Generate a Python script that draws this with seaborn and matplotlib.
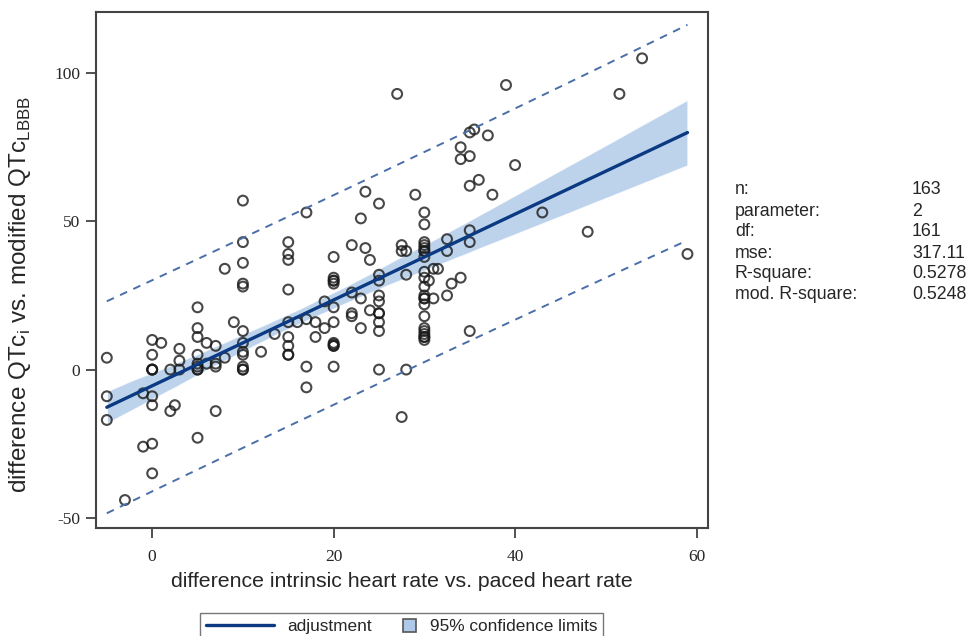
import numpy as np
import pandas as pd
import seaborn as sns
import matplotlib
matplotlib.use('Agg')
import matplotlib.pyplot as plt
from matplotlib.lines import Line2D
from matplotlib.patches import Patch, Rectangle
from matplotlib.legend_handler import HandlerPatch

# heart rate difference (x) and QTc difference (y)
hr_diff = [-5, -5, -5, -3, -1, -1, 0, 0, 0, 0, 0, 0, 0, 0, 1, 2, 2, 2.5, 3, 3, 3,
           5, 5, 5, 5, 5, 5, 5, 5, 6, 6, 7, 7, 7, 7, 8, 9, 10, 10, 10, 10, 10, 10, 12,
           10, 10, 10, 10, 10, 8,
           13.5, 15, 15, 15, 15, 15, 15, 15, 15, 16, 17, 17, 17, 17, 18, 18, 19, 19,
           20, 20, 20, 20, 20, 20, 20, 20, 20, 20, 22, 22, 22, 22, 23, 23, 23, 23.5, 23.5,
           24, 24, 25, 25, 25, 25, 25, 25, 25, 25, 25, 27.5, 27.5, 28, 28, 28, 27.5, 29,
           30, 30, 30, 30, 30, 30, 30, 30, 30, 30, 30, 30, 30, 30, 30, 30, 30, 30, 30,
           30.5, 31, 31.5, 31, 32.5, 32.5, 32.5, 33, 34, 35, 36, 35, 35, 35, 37.5,
           27, 39, 54, 51.5, 35, 35.5, 37, 34, 34, 35, 40,
           43, 48, 59,
           0, 5, 10, 20, 30, 30, 30, 25, 15, 20]
qtc_diff = [4, -9, -17, -44, -8, -26, 10, 5, 0, 0, -9, -12, -25, -35, 9, 0, -14, -12, 7, 3, 0,
            21, 14, 11, 5, 2, 0, 1, -23, 9, 2, 8, 2, 1, -14, 4, 16, 13, 9, 6, 5, 1, 0, 6,
            57, 43, 36, 29, 28, 34,
            12, 43, 39, 37, 27, 16, 11, 8, 5, 16, 53, 17, 1, -6, 16, 11, 23, 14,
            38, 31, 30, 29, 21, 16, 9, 8.5, 8, 1, 42, 26, 19, 18, 51, 24, 14, 60, 41,
            37, 20, 56, 32, 30, 25, 23, 19, 16, 13, 0, 42, 40, 40, 32, 0, -16, 59,
            53, 49, 43, 42, 41, 40, 38, 33, 31, 28, 25, 24, 22, 18, 14, 13, 12, 11, 10,
            30, 34, 34, 24, 44, 40, 25, 29, 31, 62, 64, 47, 43, 13, 59,
            93, 96, 105, 93, 80, 81, 79, 75, 71, 72, 69,
            53, 46.5, 39,
            0, 0, 0, 30, 40, 24, 11, 19, 5, 8]

stat_names = ['n:', 'parameter:', 'df:', 'mse:', 'R-square:', 'mod. R-square:']
stat_values = ['163', '2', '161', '317.11', '0.5278', '0.5248']

line_color = '#0b3a82'
band_color = '#adc8e8'
limit_color = '#4a6fa8'

sns.set_style('white')
plt.rcParams['font.family'] = ['Liberation Sans', 'DejaVu Sans']
plt.rcParams['mathtext.fontset'] = 'custom'
plt.rcParams['mathtext.rm'] = 'Liberation Sans'
plt.rcParams['axes.unicode_minus'] = False


def prediction_limits(x, y, xs, t=1.9748):
    x = np.asarray(x, float)
    y = np.asarray(y, float)
    b, a = np.polyfit(x, y, 1)
    resid = y - (a + b * x)
    s = np.sqrt(np.sum(resid ** 2) / (len(x) - 2))
    sxx = np.sum((x - x.mean()) ** 2)
    half = t * s * np.sqrt(1 + 1 / len(x) + (xs - x.mean()) ** 2 / sxx)
    fit = a + b * xs
    return fit - half, fit + half


def square_patch(legend, orig_handle, xdescent, ydescent, width, height, fontsize):
    # small square drawn at the right end of the handle box
    s = fontsize * 0.75
    return Rectangle((-xdescent + width - s, -ydescent + (height - s) / 2), s, s)


def main():
    df = pd.DataFrame({'hr': hr_diff, 'qtc': qtc_diff})

    fig = plt.figure(figsize=(9.69, 6.36), dpi=100)
    ax = fig.add_axes([0.099, 0.170, 0.632, 0.811])

    sns.regplot(data=df, x='hr', y='qtc', ax=ax, ci=95, n_boot=1000, seed=3,
                scatter_kws=dict(s=50, facecolors='none', edgecolors='#1a1a1a', linewidths=1.5),
                line_kws=dict(color=line_color, lw=2.4))
    # recolour the confidence band
    for coll in ax.collections[1:]:
        coll.set_facecolor(band_color)
        coll.set_alpha(0.8)
        coll.set_zorder(0.5)

    xs = np.linspace(min(hr_diff), max(hr_diff), 100)
    lo, hi = prediction_limits(hr_diff, qtc_diff, xs)
    ax.plot(xs, lo, ls=(0, (4, 3.5)), color=limit_color, lw=1.4)
    ax.plot(xs, hi, ls=(0, (4, 3.5)), color=limit_color, lw=1.4)

    ax.set_xlim(-6.2, 61.3)
    ax.set_ylim(-53.4, 120.6)
    ax.set_xticks([0, 20, 40, 60])
    ax.set_yticks([-50, 0, 50, 100])
    for lab in ax.get_xticklabels() + ax.get_yticklabels():
        lab.set_family(['Liberation Serif', 'DejaVu Serif'])
        lab.set_fontsize(12.5)
    ax.tick_params(direction='out', length=7.5, width=1.2, color='#333333', pad=4,
                   left=True, bottom=True)
    ax.tick_params(axis='x', pad=8)
    for side in ax.spines.values():
        side.set_color('#444444')
        side.set_linewidth(1.5)

    ax.set_xlabel('difference intrinsic heart rate vs. paced heart rate', fontsize=15.3, labelpad=5)
    ax.set_ylabel(r'difference QTc$_{\mathrm{i}}$ vs. modified QTc$_{\mathrm{LBBB}}$',
                  fontsize=17.5)
    ax.yaxis.set_label_coords(-0.102, 0.453)

    for i, (name, val) in enumerate(zip(stat_names, stat_values)):
        yy = 1 - (190 + 21 * i) / 636
        fig.text(735 / 969, yy, name, fontsize=12.8, va='center', ha='left')
        fig.text(912 / 969, yy, val, fontsize=12.8, va='center', ha='left')

    handles = [Line2D([], [], color=line_color, lw=2.4),
               Patch(facecolor=band_color, edgecolor='#555555', lw=1.2)]
    fig.legend(handles, ['adjustment', '95% confidence limits'], loc='upper center',
               bbox_to_anchor=(0.4143, 1 - 613 / 636), ncol=2, fontsize=12.4,
               frameon=True, fancybox=False, edgecolor='#555555', handlelength=3.95,
               handletextpad=0.8, columnspacing=-1.4, borderpad=0.35, borderaxespad=0,
               handler_map={Patch: HandlerPatch(patch_func=square_patch)})

    fig.savefig('out.png', dpi=100)
    plt.close(fig)


if __name__ == '__main__':
    main()
